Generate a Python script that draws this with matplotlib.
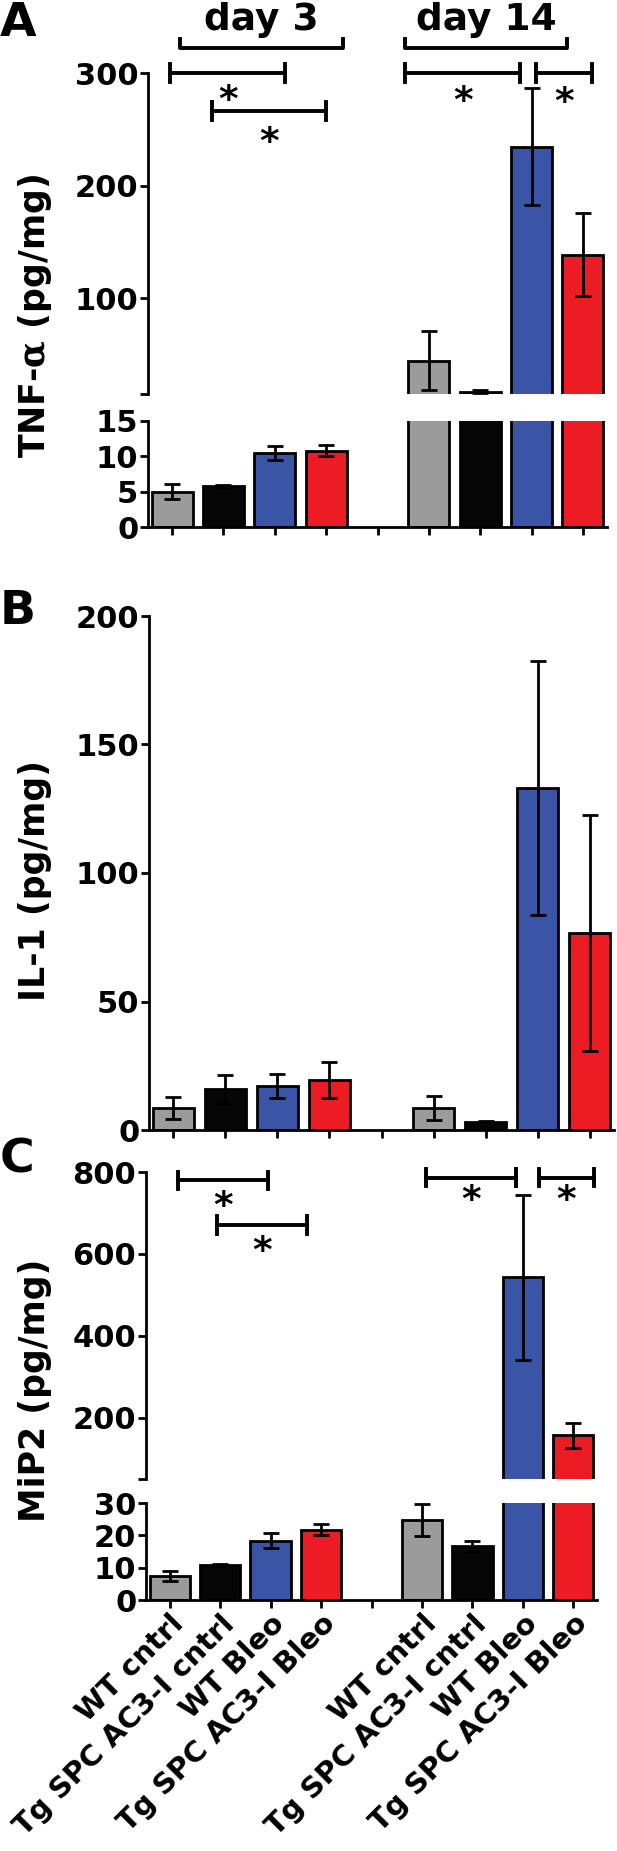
import matplotlib.pyplot as plt

plt.rcParams['font.family'] = ['DejaVu Sans']
plt.rcParams['font.weight'] = 'bold'
plt.rcParams['mathtext.fontset'] = 'custom'
plt.rcParams['mathtext.rm'] = 'DejaVu Serif'

groups = ["WT cntrl", "Tg SPC AC3-I cntrl", "WT Bleo", "Tg SPC AC3-I Bleo"]
x_labels = groups + [""] + groups
positions = [0, 1, 2, 3, 5, 6, 7, 8]
bar_colors = ["#9b9b9b", "#060606", "#3a55a5", "#ec1c24"] * 2

# day 3 (4 groups) then day 14 (4 groups)
tnf_mean = [5.0, 5.8, 10.5, 10.8, 44.7, 17.2, 234.4, 138.8]
tnf_err = [1.1, 0.15, 1.0, 0.75, 26.0, 1.0, 52.0, 36.5]
il1_mean = [8.5, 16.1, 17.1, 19.4, 8.6, 3.3, 133.1, 76.6]
il1_err = [4.4, 5.4, 4.6, 7.0, 4.8, 0.3, 49.4, 46.0]
mip2_mean = [7.4, 10.7, 18.4, 21.8, 24.8, 16.6, 543.0, 157.0]
mip2_err = [1.5, 0.3, 2.3, 1.8, 4.9, 1.5, 202.0, 31.0]

W, H = 617, 1851
fig = plt.figure(figsize=(W / 100, H / 100), dpi=100)
LW = 2.0


def add_ax(x0, x1, y0, y1):
    # pixel box, y measured from the top
    return fig.add_axes([x0 / W, 1 - y1 / H, (x1 - x0) / W, (y1 - y0) / H])


def style(ax, ylim, yticks, ylabels=None, upper=False):
    ax.set_xlim(-0.47, 8.47)
    ax.set_ylim(*ylim)
    ax.set_yticks(yticks)
    if ylabels is not None:
        ax.set_yticklabels(ylabels)
    for s in ['top', 'right']:
        ax.spines[s].set_visible(False)
    ax.spines['left'].set_linewidth(LW)
    ax.spines['bottom'].set_linewidth(LW)
    ax.tick_params(width=LW, length=6, labelsize=22, pad=1)
    if upper:
        ax.spines['bottom'].set_visible(False)
        ax.set_xticks([])
    else:
        ax.set_xticks(range(9))
        ax.set_xticklabels([])


def draw_bars(ax, means, errs):
    ax.bar(positions, means, width=0.8, color=bar_colors, edgecolor='black',
           linewidth=2.0, zorder=2)
    ax.errorbar(positions, means, yerr=errs, fmt='none', ecolor='black',
                elinewidth=2.0, capsize=5.5, capthick=2.0, zorder=3)


def sig(ax, x0, x1, y, h, star_y):
    ax.plot([x0, x1], [y, y], color='black', lw=2.8, clip_on=False)
    ax.plot([x0, x0], [y - h, y + h], color='black', lw=2.8, clip_on=False)
    ax.plot([x1, x1], [y - h, y + h], color='black', lw=2.8, clip_on=False)
    ax.text((x0 + x1) / 2, star_y, '*', ha='center', va='center', fontsize=27,
            fontweight='bold', clip_on=False)


def day_bracket(ax, x0, x1, y, h, label, ty):
    ax.plot([x0, x0, x1, x1], [y + h, y, y, y + h], color='black', lw=2.8,
            clip_on=False)
    ax.text((x0 + x1) / 2, ty, label, ha='center', va='center', fontsize=27,
            fontweight='bold', clip_on=False)


# ---- panel A : TNF-alpha, broken axis
a_up = add_ax(148, 607, 73, 394)
a_lo = add_ax(148, 607, 421, 527)
draw_bars(a_up, tnf_mean, tnf_err)
draw_bars(a_lo, tnf_mean, tnf_err)
style(a_up, (15, 300), [15, 100, 200, 300], ['', '100', '200', '300'], upper=True)
style(a_lo, (0, 15), [0, 5, 10, 15])
sig(a_up, -0.04, 2.2, 300, 8, 275)
sig(a_up, 0.77, 3.0, 266, 8, 238)
sig(a_up, 4.54, 6.78, 300, 8, 274)
sig(a_up, 7.08, 8.17, 300, 8, 273)
day_bracket(a_up, 0.16, 3.33, 322, 8, 'day 3', 347)
day_bracket(a_up, 4.54, 7.7, 322, 8, 'day 14', 347)
fig.text(35 / W, 1 - 316 / H, 'TNF-$\\mathrm{\\alpha}$ (pg/mg)', rotation=90,
         ha='center', va='center', fontsize=25, fontweight='bold')
fig.text(0, 1 - 24 / H, 'A', ha='left', va='center', fontsize=34, fontweight='bold')

# ---- panel B : IL-1
b = add_ax(149, 614, 616, 1130)
draw_bars(b, il1_mean, il1_err)
style(b, (0, 200), [0, 50, 100, 150, 200])
fig.text(35 / W, 1 - 880 / H, 'IL-1 (pg/mg)', rotation=90,
         ha='center', va='center', fontsize=25, fontweight='bold')
fig.text(0, 1 - 612 / H, 'B', ha='left', va='center', fontsize=34, fontweight='bold')

# ---- panel C : MiP2, broken axis
c_up = add_ax(146, 597, 1172, 1479)
c_lo = add_ax(146, 597, 1503, 1600)
draw_bars(c_up, mip2_mean, mip2_err)
draw_bars(c_lo, mip2_mean, mip2_err)
style(c_up, (50, 800), [50, 200, 400, 600, 800], ['', '200', '400', '600', '800'], upper=True)
style(c_lo, (0, 30), [0, 10, 20, 30])
c_lo.set_xticklabels(x_labels, rotation=45, ha='right', rotation_mode='anchor',
                     fontsize=21)
sig(c_up, 0.16, 1.95, 780, 21, 714)
sig(c_up, 0.93, 2.72, 670, 22, 604)
sig(c_up, 5.09, 6.86, 786, 21, 728)
sig(c_up, 7.32, 8.41, 786, 21, 728)
fig.text(35 / W, 1 - 1390 / H, 'MiP2 (pg/mg)', rotation=90,
         ha='center', va='center', fontsize=25, fontweight='bold')
fig.text(0, 1 - 1160 / H, 'C', ha='left', va='center', fontsize=34, fontweight='bold')

fig.savefig('out.png', dpi=100)
